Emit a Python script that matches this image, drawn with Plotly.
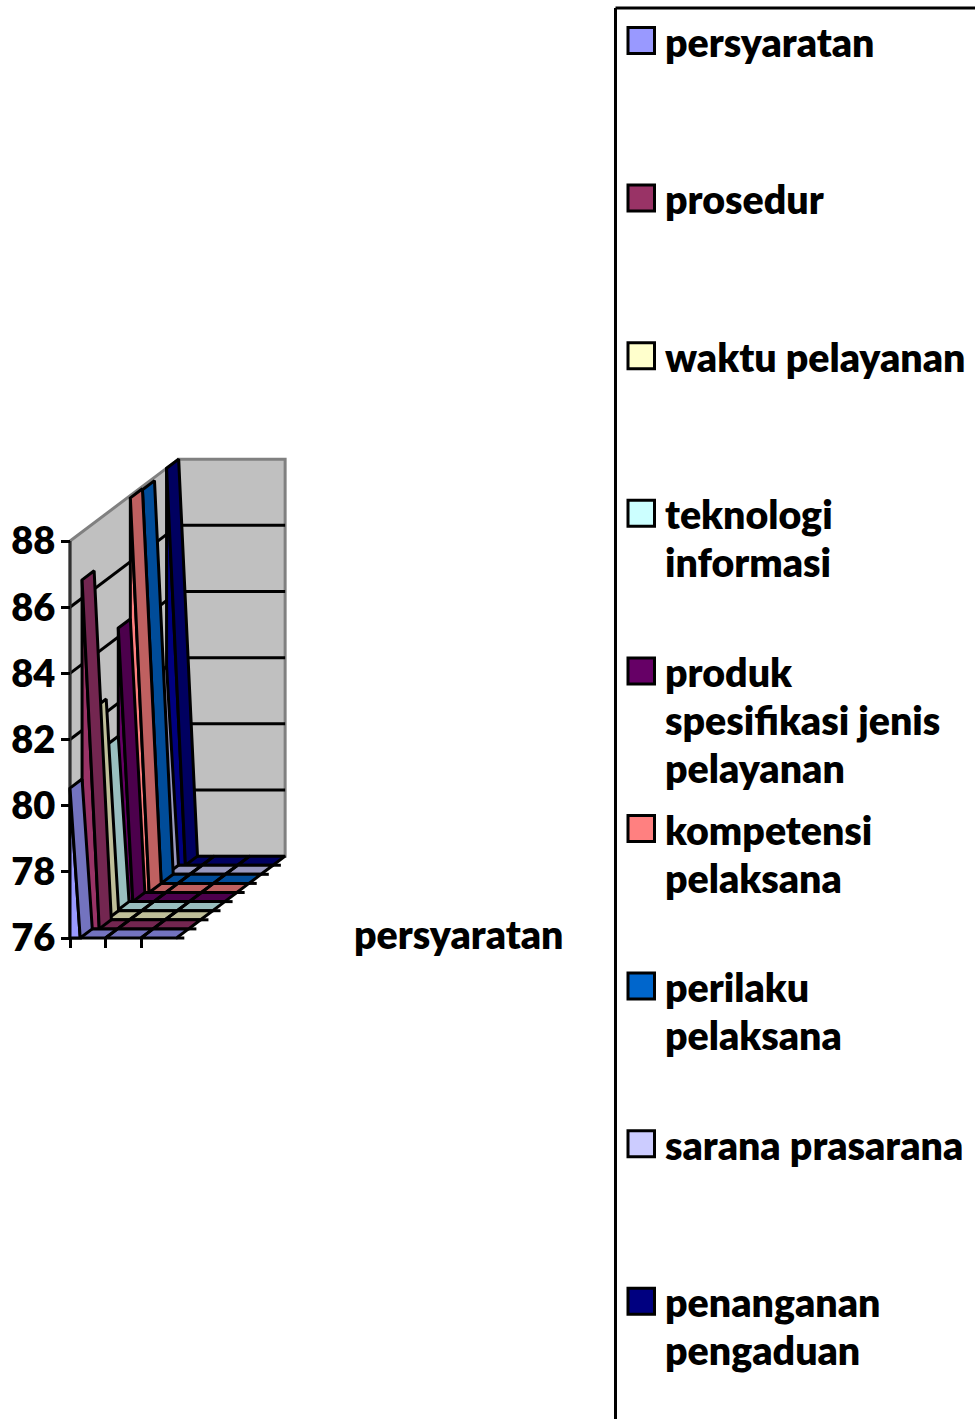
import plotly.graph_objects as go

SERIES = ["persyaratan", "prosedur", "waktu pelayanan", "teknologi informasi",
          "produk spesifikasi jenis pelayanan", "kompetensi pelaksana",
          "perilaku pelaksana", "sarana prasarana", "penanganan pengaduan"]
LEGEND_LINES = [["persyaratan"], ["prosedur"], ["waktu pelayanan"], ["teknologi", "informasi"],
                ["produk", "spesifikasi jenis", "pelayanan"], ["kompetensi", "pelaksana"],
                ["perilaku", "pelaksana"], ["sarana prasarana"], ["penanganan", "pengaduan"]]
VALUES = [80.53, 86.55, 82.4, 81.0, 84.27, 87.93, 87.9, 82.0, 88.0]
FACE = ["#9999FF", "#993366", "#FFFFCC", "#CCFFFF", "#660066", "#FF8080", "#0066CC", "#CCCCFF", "#000080"]
DARK = ["#7373BF", "#732650", "#BFBF99", "#99BFBF", "#4C004C", "#BF6060", "#004C99", "#9999BF", "#000060"]
Y_TICKS = [76, 78, 80, 82, 84, 86, 88]
X_TICKS = [0, 1, 2]
CATEGORY = "persyaratan"

W, H = 975, 1419
FONT = "Lato, Carlito, Calibri, sans-serif"
FS = 39.3
TICK_FS = 38
WEIGHT = 800
X0_PX, PX_CAT = 70, 35.5
Y76_PX, PX_VAL = 938, 33.08
DX, DY = 0.34, 0.275     # depth shift per series row, in category / value units
VMIN, VMAX = 76, 88
NCAT, NROW = 3, len(SERIES)
LW = 3


def proj(cat, val, row):
    return cat + DX * row, val + DY * row


def poly(pts):
    xs, ys = zip(*pts)
    return list(xs) + [xs[0]], list(ys) + [ys[0]]


fig = go.Figure()


def add_poly(xs, ys, fill, line="black", lw=LW, name=None):
    fig.add_trace(go.Scatter(x=xs, y=ys, mode="lines", fill="toself", fillcolor=fill,
                             line=dict(color=line, width=lw), name=name, hoverinfo="name" if name else "skip",
                             showlegend=False, cliponaxis=False))


def add_lines(segs, color="black", lw=3):
    xs, ys = [], []
    for a, b in segs:
        xs += [a[0], b[0], None]
        ys += [a[1], b[1], None]
    fig.add_trace(go.Scatter(x=xs, y=ys, mode="lines", line=dict(color=color, width=lw),
                             hoverinfo="skip", showlegend=False, cliponaxis=False))


# walls
xs, ys = poly([proj(0, VMIN, NROW), proj(NCAT, VMIN, NROW), proj(NCAT, VMAX, NROW), proj(0, VMAX, NROW)])
add_poly(xs, ys, "#C0C0C0", "#808080", 3)
xs, ys = poly([proj(0, VMIN, 0), proj(0, VMIN, NROW), proj(0, VMAX, NROW), proj(0, VMAX, 0)])
add_poly(xs, ys, "#C0C0C0", "#808080", 3)
add_lines([(proj(0, v, 0), proj(0, v, NROW)) for v in Y_TICKS[1:-1]] +
          [(proj(0, v, NROW), proj(NCAT, v, NROW)) for v in Y_TICKS[1:-1]])
add_lines([(proj(0, VMIN, 0), proj(0, VMAX, 0))], "#303030")

# floor depth ticks
add_lines([(proj(NCAT, VMIN, r), proj(NCAT + 0.22, VMIN, r)) for r in range(NROW)])

# rows, back to front
for r in range(NROW - 1, -1, -1):
    xs, ys = [], []
    for c in range(NCAT):
        px, py = poly([proj(c, VMIN, r), proj(c + 1, VMIN, r), proj(c + 1, VMIN, r + 1), proj(c, VMIN, r + 1)])
        xs += px + [None]
        ys += py + [None]
    add_poly(xs, ys, DARK[r], name=SERIES[r])
    v = VALUES[r]
    lean = 0.14 + 0.0326 * (v - VMIN)
    front_top = proj(0, v, r)
    front_bl = proj(0, VMIN, r)
    front_br = proj(lean, VMIN, r)
    xs, ys = poly([front_bl, front_br, front_top])
    add_poly(xs, ys, FACE[r], name=SERIES[r])
    xs, ys = poly([front_br, proj(lean, VMIN, r + 1), proj(0, v, r + 1), front_top])
    add_poly(xs, ys, DARK[r], name=SERIES[r])

shapes = [
    dict(type="line", xref="paper", yref="paper", x0=615.5 / W, x1=615.5 / W, y0=1 - 8 / H, y1=0,
         line=dict(color="black", width=3)),
    dict(type="line", xref="paper", yref="paper", x0=615.5 / W, x1=1, y0=1 - 8 / H, y1=1 - 8 / H,
         line=dict(color="black", width=3)),
]
BOLD = dict(family=FONT, size=FS, color="black", weight=WEIGHT)
annotations = [dict(text=CATEGORY, xref="paper", yref="paper", x=459 / W, y=1 - 933 / H, showarrow=False,
                    xanchor="center", yanchor="middle", font=BOLD)]
LEG_TOP, LEG_STEP, LINE_STEP = 41, 157.6, 48
for i, lines in enumerate(LEGEND_LINES):
    cy = LEG_TOP + LEG_STEP * i
    shapes.append(dict(type="rect", xref="paper", yref="paper", x0=628 / W, x1=654.5 / W,
                       y0=1 - (cy - 13.5) / H, y1=1 - (cy + 12.5) / H, fillcolor=FACE[i],
                       line=dict(color="black", width=3)))
    for k, txt in enumerate(lines):
        annotations.append(dict(text=txt, xref="paper", yref="paper", x=664 / W,
                                y=1 - (cy + LINE_STEP * k) / H, showarrow=False, xanchor="left",
                                yanchor="middle", align="left", borderpad=0, font=BOLD))

fig.update_layout(
    width=W, height=H, autosize=False, margin=dict(l=0, r=0, t=0, b=0), showlegend=False,
    paper_bgcolor="white", plot_bgcolor="white", shapes=shapes, annotations=annotations,
    xaxis=dict(range=[-X0_PX / PX_CAT, (W - X0_PX) / PX_CAT], domain=[0, 1], anchor="free",
               position=1 - Y76_PX / H, showgrid=False, zeroline=False, showline=False,
               tickvals=X_TICKS, ticks="outside", ticklen=9, tickwidth=3, tickcolor="black",
               showticklabels=False),
    yaxis=dict(range=[VMIN - (H - Y76_PX) / PX_VAL, VMIN + Y76_PX / PX_VAL], domain=[0, 1], anchor="free",
               position=X0_PX / W, showgrid=False, zeroline=False, showline=False,
               tickvals=Y_TICKS, ticks="outside", ticklen=9, tickwidth=3, tickcolor="black",
               ticklabelstandoff=-2,
               tickfont=dict(family=FONT, size=TICK_FS, color="black", weight=WEIGHT)),
)
fig.write_html("out.html", config={"displayModeBar": False},
               post_script="document.body.style.margin='0';")
